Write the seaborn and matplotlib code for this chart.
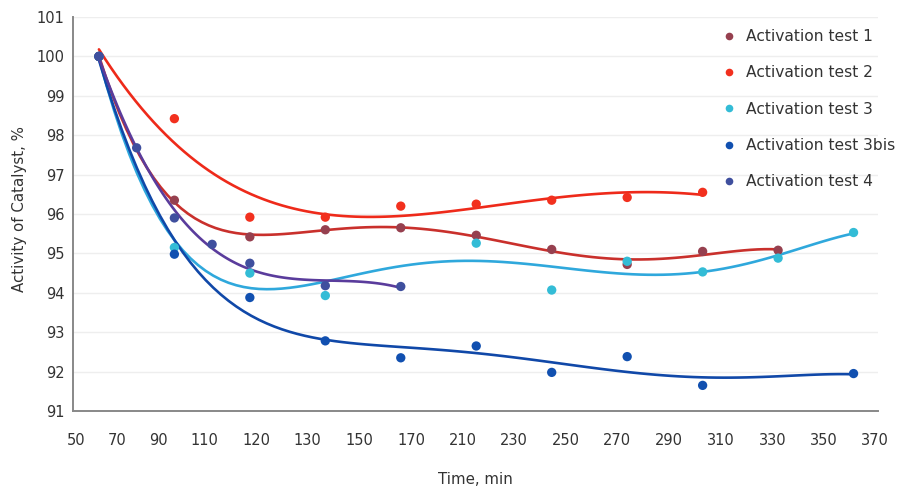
import numpy as np
import pandas as pd
import matplotlib
matplotlib.use("Agg")
import matplotlib.pyplot as plt
import seaborn as sns
from matplotlib.lines import Line2D

# ---- data ----
series_names = ["Activation test 1", "Activation test 2", "Activation test 3",
                "Activation test 3bis", "Activation test 4"]

test1_time = [60, 90, 120, 150, 180, 210, 240, 270, 300, 330]
test1_act = [100.0, 96.35, 95.42, 95.6, 95.65, 95.46, 95.1, 94.72, 95.05, 95.08]

test2_time = [60, 90, 120, 150, 180, 210, 240, 270, 300]
test2_act = [100.0, 98.42, 95.92, 95.92, 96.2, 96.25, 96.35, 96.42, 96.55]

test3_time = [60, 90, 120, 150, 210, 240, 270, 300, 330, 360]
test3_act = [100.0, 95.15, 94.5, 93.93, 95.26, 94.07, 94.8, 94.53, 94.88, 95.53]

test3bis_time = [60, 90, 120, 150, 180, 210, 240, 270, 300, 360]
test3bis_act = [100.0, 94.98, 93.88, 92.78, 92.35, 92.65, 91.98, 92.38, 91.65, 91.95]

test4_time = [60, 75, 90, 105, 120, 150, 180]
test4_act = [100.0, 97.68, 95.9, 95.23, 94.75, 94.18, 94.16]

# polynomial trendline order per test
trend_order = [5, 4, 5, 5, 3]

# x tick labels as printed on the original chart (not evenly numbered)
xtick_labels = ["50", "70", "90", "110", "120", "130", "150", "170", "210",
                "230", "250", "270", "290", "310", "330", "350", "370"]
xtick_pos = [51, 67.3, 83.5, 102, 122.8, 143, 163.7, 184.4, 204.7, 225,
             245.6, 266, 286.5, 307.2, 328, 348.2, 368.4]

dot_colors = ["#96404f", "#f2301e", "#33bcd6", "#1150b0", "#3f4f9e"]
line_colors = ["#c9302c", "#ee2a1a", "#2fa8dc", "#1048a8", "#5a3c9c"]

frames = []
for name, t, a in zip(series_names,
                      [test1_time, test2_time, test3_time, test3bis_time, test4_time],
                      [test1_act, test2_act, test3_act, test3bis_act, test4_act]):
    frames.append(pd.DataFrame({"time": t, "activity": a, "test": name}))
df = pd.concat(frames, ignore_index=True)

sns.set_style("white")
plt.rcParams["font.family"] = ["DejaVu Sans"]

fig = plt.figure(figsize=(9.23, 4.96), dpi=100)
ax = fig.add_axes([0.0791, 0.1714, 0.8721, 0.7943])

# trendlines first, dots on top
for name, order, lc in zip(series_names, trend_order, line_colors):
    sub = df[df["test"] == name]
    sns.regplot(data=sub, x="time", y="activity", order=order, ci=None,
                scatter=False, ax=ax, truncate=True,
                line_kws={"color": lc, "lw": 1.9, "zorder": 2})

for name, dc in zip(series_names, dot_colors):
    sub = df[df["test"] == name]
    sns.scatterplot(data=sub, x="time", y="activity", color=dc, s=45,
                    edgecolor="none", ax=ax, zorder=3)

ax.set_xlim(49.7, 369.7)
ax.set_ylim(91, 101)
ax.set_yticks(range(91, 102))
ax.set_xticks(xtick_pos)
ax.set_xticklabels(xtick_labels)
ax.tick_params(axis="both", length=0, labelsize=10.5, labelcolor="#333333")
ax.tick_params(axis="x", pad=16)
ax.tick_params(axis="y", pad=6)
ax.yaxis.grid(True, color="#eeeeee", lw=1)
ax.set_axisbelow(True)

sns.despine(ax=ax)
for side in ["left", "bottom"]:
    ax.spines[side].set_color("#888888")
    ax.spines[side].set_linewidth(1.4)

ax.set_xlabel("Time, min", fontsize=10.8, color="#333333")
ax.set_ylabel("Activity of Catalyst, %", fontsize=10.8, color="#333333")
ax.xaxis.set_label_coords(0.5, -0.155)
ax.yaxis.set_label_coords(-0.0575, 0.5125)

handles = [Line2D([], [], marker="o", ls="none", color=c, markersize=5.5,
                  markeredgewidth=0) for c in dot_colors]
leg = ax.legend(handles, series_names, loc="upper left",
                bbox_to_anchor=(0.797, 0.985), frameon=False,
                fontsize=11.2, handletextpad=0.65, labelspacing=1.37,
                handlelength=1.0, borderaxespad=0)
for txt in leg.get_texts():
    txt.set_color("#333333")

fig.savefig("out.png", dpi=100)
